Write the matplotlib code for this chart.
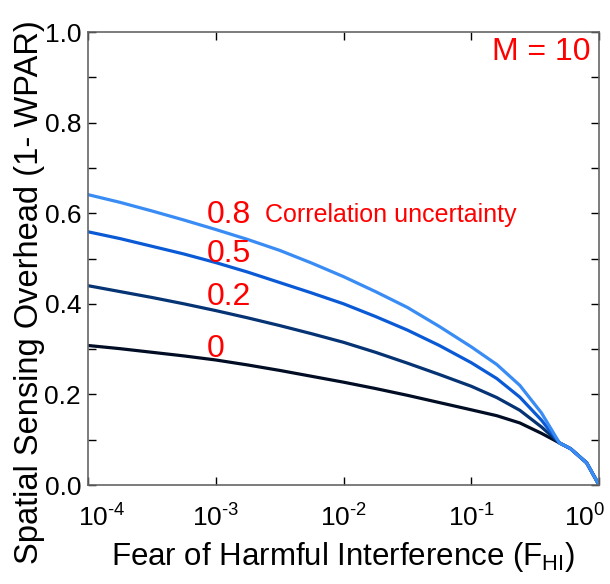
import numpy as np
import matplotlib.pyplot as plt
import matplotlib.transforms as mtransforms

plt.rcParams['font.family'] = ['Liberation Sans', 'DejaVu Sans']
plt.rcParams['mathtext.fontset'] = 'custom'
plt.rcParams['mathtext.rm'] = 'Liberation Sans'
plt.rcParams['mathtext.it'] = 'Liberation Sans'

# fear of harmful interference (log10) where the curves were read
log_f = [-4, -3.75, -3.5, -3.25, -3, -2.75, -2.5, -2.25, -2, -1.75, -1.5, -1.25, -1,
         -0.8, -0.62, -0.45, -0.31]
# common tail after the curves meet
tail_f = [0.6, 0.8, 1.0]
tail_y = [0.080, 0.049, 0.0]

overhead = {
    '0': [0.308, 0.301, 0.293, 0.285, 0.276, 0.265, 0.253, 0.240, 0.227, 0.213, 0.198, 0.182, 0.166,
          0.153, 0.137, 0.114, 0.093],
    '0.2': [0.440, 0.427, 0.414, 0.400, 0.385, 0.369, 0.352, 0.334, 0.315, 0.293, 0.269, 0.244, 0.218,
            0.193, 0.165, 0.128, 0.093],
    '0.5': [0.559, 0.544, 0.527, 0.510, 0.491, 0.470, 0.447, 0.424, 0.400, 0.372, 0.342, 0.308, 0.270,
            0.235, 0.194, 0.143, 0.093],
    '0.8': [0.641, 0.624, 0.605, 0.585, 0.564, 0.542, 0.518, 0.490, 0.460, 0.427, 0.392, 0.350, 0.305,
            0.266, 0.220, 0.159, 0.093],
}
colors = {'0': '#010d24', '0.2': '#053373', '0.5': '#0a5ad6', '0.8': '#3a8cf5'}
label_y = {'0': 0.30, '0.2': 0.415, '0.5': 0.51, '0.8': 0.595}
xtick_labels = ['$10^{\\text{-}4}$', '$10^{\\text{-}3}$', '$10^{\\text{-}2}$', '$10^{\\text{-}1}$', '$10^{0}$']

fig = plt.figure(figsize=(6.1, 5.84), dpi=100)
ax = fig.add_axes([0.1443, 0.1695, 0.8377, 0.7757])

for key in ['0', '0.2', '0.5', '0.8']:
    x = list(10.0 ** np.array(log_f)) + tail_f
    y = overhead[key] + tail_y
    ax.plot(x, y, color=colors[key], lw=2.3, solid_joinstyle='round')
    ax.text(8.5e-4, label_y[key], key, color='red', fontsize=23, ha='left', va='center')

ax.text(2.45e-3, 0.597, 'Correlation uncertainty', color='red', fontsize=18, ha='left', va='center')
ax.text(0.983, 0.956, 'M = 10', color='red', fontsize=23, ha='right', va='center', transform=ax.transAxes)

ax.set_xscale('log')
ax.set_xlim(1e-4, 1)
ax.set_ylim(0, 1)
ax.set_xticks([1e-4, 1e-3, 1e-2, 1e-1, 1])
ax.set_xticklabels(xtick_labels)
ax.xaxis.set_minor_locator(plt.NullLocator())
ax.set_yticks(np.arange(0, 1.01, 0.1))
ax.set_yticklabels(['%.1f' % v if i % 2 == 0 else '' for i, v in enumerate(np.arange(0, 1.01, 0.1))])
ax.tick_params(direction='in', top=True, right=True, length=6, width=1, labelsize=19, pad=5)
ax.tick_params(axis='x', pad=14)
for s in ax.spines.values():
    s.set_color('#666666')
    s.set_linewidth(1.2)

labs = ax.get_xticklabels()
labs[0].set_transform(labs[0].get_transform() + mtransforms.ScaledTranslation(14 / 100, 0, fig.dpi_scale_trans))
labs[-1].set_transform(labs[-1].get_transform() + mtransforms.ScaledTranslation(-14 / 100, 0, fig.dpi_scale_trans))

ax.set_xlabel('Fear of Harmful Interference (F$_{\\mathrm{HI}}$)', fontsize=22.5)
ax.set_ylabel('Spatial Sensing Overhead (1- WPAR)', fontsize=23.5)
ax.yaxis.set_label_coords(-0.084, 0.426)
ax.xaxis.set_label_coords(0.5, -0.121)

fig.savefig('out.png', dpi=100)
